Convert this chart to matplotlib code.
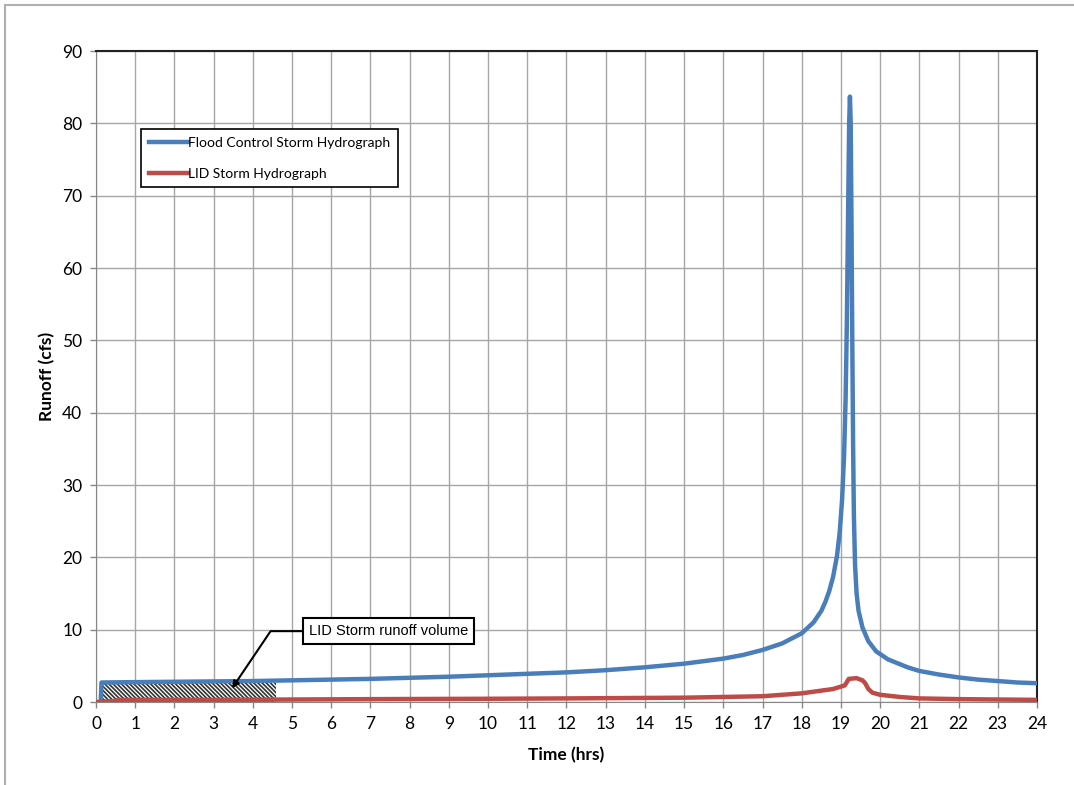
import numpy as np
import matplotlib.pyplot as plt
from matplotlib.patches import Rectangle

plt.rcParams['font.family'] = ['Lato', 'DejaVu Sans']
plt.rcParams['hatch.linewidth'] = 1.2

# Flood control storm hydrograph (time in hrs, runoff in cfs)
flood_t = [0.12, 0.14, 1, 2, 3, 4, 5, 6, 7, 8, 9, 10, 11, 12, 13, 14, 15,
           16, 16.5, 17, 17.5, 18, 18.3, 18.5, 18.6, 18.7, 18.8, 18.9,
           18.97, 19.03, 19.08, 19.12, 19.15, 19.18, 19.21, 19.23, 19.25,
           19.27, 19.29, 19.31, 19.33, 19.36, 19.4, 19.45, 19.55, 19.7,
           19.9, 20.2, 20.7, 21, 21.5, 22, 22.5, 23, 23.5, 24]
flood_q = [0.0, 2.7, 2.75, 2.8, 2.85, 2.9, 3.0, 3.1, 3.2, 3.35, 3.5, 3.7,
           3.9, 4.1, 4.4, 4.8, 5.3, 6.0, 6.5, 7.2, 8.1, 9.5, 11.0, 12.6,
           13.8, 15.3, 17.3, 20.2, 23.5, 28.0, 34.0, 42.0, 52.0, 66.0, 80.0,
           83.7, 80.0, 66.0, 50.0, 36.0, 26.0, 19.0, 15.0, 12.6, 10.3, 8.4,
           7.0, 5.9, 4.8, 4.3, 3.8, 3.4, 3.1, 2.9, 2.7, 2.6]

# LID storm hydrograph
lid_t = [0, 0.4, 0.6, 1, 3, 5, 7, 10, 12, 15, 17, 18, 18.8, 19.1, 19.2,
         19.4, 19.55, 19.62, 19.7, 19.8, 20, 20.5, 21, 22, 24]
lid_q = [0.0, 0.1, 0.3, 0.3, 0.3, 0.35, 0.4, 0.45, 0.5, 0.6, 0.8, 1.2,
         1.8, 2.3, 3.2, 3.3, 3.0, 2.6, 1.8, 1.3, 1.0, 0.7, 0.5, 0.4, 0.3]

# hatched LID runoff volume block
vol_t = [0.15, 4.6]
vol_q = 2.6

fig = plt.figure(figsize=(10.74, 7.85), dpi=100)
ax = fig.add_axes([0.0894, 0.1057, 0.8761, 0.8293])

ax.fill_between(vol_t, 0, vol_q, facecolor='white', edgecolor='#333333',
                hatch='\\' * 8, linewidth=0, zorder=2)
ax.plot(flood_t, flood_q, color='#4a7ebb', lw=3.2, zorder=3,
        label='Flood Control Storm Hydrograph', solid_joinstyle='round')
ax.plot(lid_t, lid_q, color='#be4b48', lw=3.2, zorder=4,
        label='LID Storm Hydrograph', solid_joinstyle='round')

ax.set_xlim(0, 24)
ax.set_ylim(0, 90)
ax.set_xticks(np.arange(0, 25, 1))
ax.set_yticks(np.arange(0, 91, 10))
ax.grid(True, color='#a6a6a6', lw=1)
ax.set_axisbelow(True)
ax.tick_params(length=4, width=1, color='#868686', labelsize=12.5, pad=6)

for s in ['left', 'bottom']:
    ax.spines[s].set_color('#868686')
for s in ['top', 'right']:
    ax.spines[s].set_color('#222222')
    ax.spines[s].set_linewidth(1.5)

ax.set_xlabel('Time (hrs)', fontsize=12.5, fontweight='bold', labelpad=11)
ax.set_ylabel('Runoff (cfs)', fontsize=12.5, fontweight='bold', labelpad=5)

leg = ax.legend(loc='upper left', bbox_to_anchor=(0.048, 0.88),
                borderaxespad=0, fancybox=False, framealpha=1,
                edgecolor='black', fontsize=10, handlelength=2.8,
                handletextpad=0.05, labelspacing=1.35, borderpad=0.55)
leg.get_frame().set_linewidth(1.2)

ax.annotate('LID Storm runoff volume', xy=(3.47, 1.9), xytext=(5.42, 9.8),
            fontsize=10.5, ha='left', va='center', family='Liberation Sans',
            bbox=dict(boxstyle='square,pad=0.4', fc='white', ec='black',
                      lw=1.5),
            arrowprops=dict(arrowstyle='-|>', color='black', lw=1.5,
                            mutation_scale=10, shrinkA=0, shrinkB=0,
                            connectionstyle='angle,angleA=0,angleB=56,rad=0'),
            zorder=6)

fig.patches.append(Rectangle((5 / 1074, -0.01), 1.02, 1 - 5 / 785 + 0.01,
                             transform=fig.transFigure, fill=False,
                             ec='#b0b0b0', lw=1.5))

fig.savefig('out.png', dpi=100)
